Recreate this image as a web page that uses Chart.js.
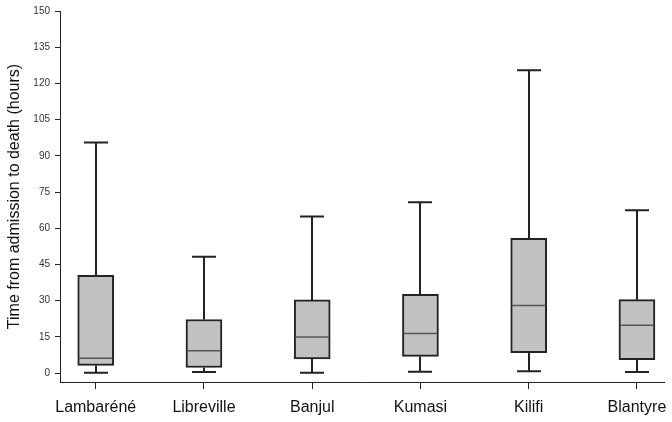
<!DOCTYPE html>
<html>
<head>
<meta charset="utf-8">
<script src="https://cdn.jsdelivr.net/npm/chart.js@4/dist/chart.umd.min.js"></script>
<style>
  html, body { margin: 0; padding: 0; background: #fff; }
</style>
</head>
<body>
<canvas id="boxChart" width="672" height="422"></canvas>
<script>
// values (hours)
const sites = ['Lambaréné', 'Libreville', 'Banjul', 'Kumasi', 'Kilifi', 'Blantyre'];
const whiskerLow = [0.1, 0.4, 0.1, 0.5, 0.8, 0.4];
const q1 = [3.2, 2.3, 5.9, 6.9, 8.4, 5.5];
const medians = [6.1, 9.2, 14.9, 16.4, 28.0, 19.8];
const q3 = [40.5, 22.2, 30.3, 32.6, 55.8, 30.4];
const whiskerHigh = [95.5, 48.2, 64.9, 70.8, 125.5, 67.5];
const yTicks = [0, 15, 30, 45, 60, 75, 90, 105, 120, 135, 150];

const FONT = '"Liberation Sans", Arial, sans-serif';
const INK = '#222';

// whiskers + median lines, drawn with the chart's own scales
const boxExtras = {
  id: 'boxExtras',
  beforeDatasetsDraw(chart) {
    const ctx = chart.ctx;
    const x = chart.scales.x, y = chart.scales.y;
    const cap = 12;
    ctx.save();
    ctx.strokeStyle = INK;
    ctx.lineWidth = 2;
    sites.forEach((s, i) => {
      const px = Math.round(x.getPixelForValue(i));
      const lo = y.getPixelForValue(whiskerLow[i]);
      const hi = y.getPixelForValue(whiskerHigh[i]);
      const b1 = y.getPixelForValue(q1[i]);
      const b3 = y.getPixelForValue(q3[i]);
      ctx.beginPath();
      ctx.moveTo(px, b3); ctx.lineTo(px, hi);
      ctx.moveTo(px - cap, hi); ctx.lineTo(px + cap, hi);
      ctx.moveTo(px, b1); ctx.lineTo(px, lo);
      ctx.moveTo(px - cap, lo); ctx.lineTo(px + cap, lo);
      ctx.stroke();
    });
    ctx.restore();
  },
  afterDatasetsDraw(chart) {
    const ctx = chart.ctx;
    const x = chart.scales.x, y = chart.scales.y;
    ctx.save();
    ctx.strokeStyle = '#555';
    ctx.lineWidth = 1.5;
    sites.forEach((s, i) => {
      const px = x.getPixelForValue(i);
      const pm = y.getPixelForValue(medians[i]);
      ctx.beginPath();
      ctx.moveTo(px - 17, pm); ctx.lineTo(px + 17, pm);
      ctx.stroke();
    });
    ctx.restore();
  }
};

const ctx = document.getElementById('boxChart').getContext('2d');

new Chart(ctx, {
  type: 'bar',
  data: {
    datasets: [{
      data: sites.map((s, i) => ({ x: i, y: [q1[i], q3[i]] })),
      backgroundColor: '#c2c2c2',
      borderColor: INK,
      borderWidth: 2,
      borderSkipped: false,
      barThickness: 36
    }]
  },
  options: {
    responsive: false,
    animation: false,
    layout: { padding: { top: 10, right: 8, left: 0, bottom: 0 } },
    plugins: {
      legend: { display: false },
      tooltip: { enabled: false }
    },
    scales: {
      x: {
        type: 'linear',
        offset: false,
        min: -0.33,
        max: 5.25,
        afterBuildTicks: axis => { axis.ticks = sites.map((s, i) => ({ value: i })); },
        afterFit: axis => { axis.height = 40; axis.paddingLeft = 0; axis.paddingRight = 0; },
        grid: { offset: false, drawOnChartArea: false, drawTicks: true, tickLength: 7, color: INK },
        border: { display: true, color: INK, width: 1 },
        ticks: {
          callback: v => sites[v],
          color: '#111',
          font: { family: FONT, size: 16 },
          padding: 9,
          maxRotation: 0,
          autoSkip: false
        }
      },
      y: {
        min: -3.7,
        max: 150,
        afterBuildTicks: axis => { axis.ticks = yTicks.map(v => ({ value: v })); },
        afterFit: axis => { axis.width = 60; },
        grid: { drawOnChartArea: false, drawTicks: true, tickLength: 5, color: INK },
        border: { display: true, color: INK, width: 1 },
        ticks: {
          color: '#333',
          font: { family: FONT, size: 10 },
          padding: 5
        },
        title: {
          display: true,
          text: 'Time from admission to death (hours)',
          color: '#111',
          font: { family: FONT, size: 16 },
          padding: { top: 5, bottom: 4 }
        }
      }
    }
  },
  plugins: [boxExtras]
});
</script>
</body>
</html>
